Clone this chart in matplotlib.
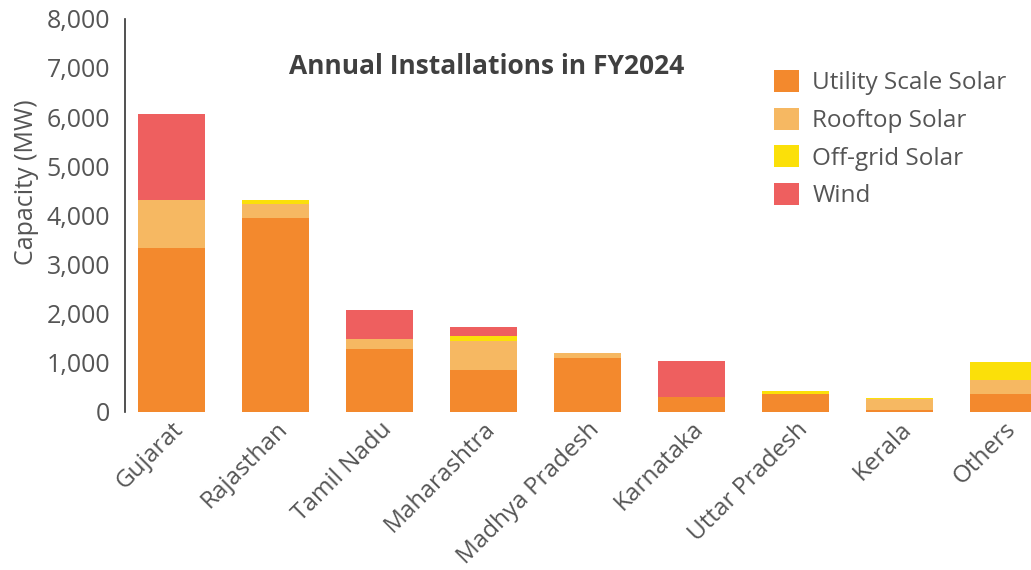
import matplotlib
matplotlib.use("Agg")
import matplotlib.pyplot as plt
from matplotlib.patches import Patch
import numpy as np

states = ["Gujarat", "Rajasthan", "Tamil Nadu", "Maharashtra", "Madhya Pradesh",
          "Karnataka", "Uttar Pradesh", "Kerala", "Others"]
utility = [3330, 3945, 1280, 850, 1095, 300, 360, 35, 360]
rooftop = [980, 285, 200, 590, 100, 0, 0, 225, 285]
offgrid = [0, 82, 0, 100, 0, 0, 60, 20, 365]
wind = [1750, 0, 590, 185, 0, 735, 0, 0, 0]
series_names = ["Utility Scale Solar", "Rooftop Solar", "Off-grid Solar", "Wind"]
colors = ["#F3892D", "#F6B862", "#FBE009", "#EE5F5F"]
y_ticks = [0, 1000, 2000, 3000, 4000, 5000, 6000, 7000, 8000]

plt.rcParams['font.family'] = ['Open Sans', 'DejaVu Sans']
text_color = "#555555"

W, H = 1031, 570
fig = plt.figure(figsize=(W / 100, H / 100), dpi=100)
px0, py0 = 125.3, 411.7
ppu = 104.0
x0 = -0.444
x1 = 8.6
ax = fig.add_axes([px0 / W, (H - py0) / H, (x1 - x0) * ppu / W, 392.8 / H])

x = np.arange(len(states))
data = [utility, rooftop, offgrid, wind]
bottom = np.zeros(len(states))
for vals, c, n in zip(data, colors, series_names):
    ax.bar(x, vals, width=0.644, bottom=bottom, color=c, label=n, linewidth=0)
    bottom += np.array(vals)

ax.set_xlim(x0, x1)
ax.set_ylim(0, 8000)
ax.set_yticks(y_ticks)
ax.set_yticklabels([f"{v:,}" for v in y_ticks], fontsize=18, color=text_color)
ax.set_xticks(x)
ax.set_xticklabels(states, rotation=45, ha='right', rotation_mode='anchor',
                   fontsize=17.5, color=text_color)
ax.tick_params(axis='both', length=0)
ax.tick_params(axis='y', pad=11)
ax.tick_params(axis='x', pad=4)
for s in ["top", "right", "bottom"]:
    ax.spines[s].set_visible(False)
ax.spines["left"].set_color("#333333")
ax.spines["left"].set_linewidth(1.2)

fig.text(27 / W, 1 - 182 / H, "Capacity (MW)", fontsize=18, color=text_color,
         rotation=90, ha='center', va='center')

fig.text(487 / W, 1 - 67 / H, "Annual Installations in FY2024", fontsize=19,
         fontweight='bold', color="#404040", ha='center', va='center')

handles = [Patch(facecolor=c, edgecolor='none') for c in colors]
leg = fig.legend(handles, series_names, loc='upper left',
                 bbox_to_anchor=(774 / W, 1 - 70 / H), frameon=False,
                 fontsize=17.5, handlelength=1.03, handleheight=1.03,
                 handletextpad=0.55, labelspacing=0.5, borderpad=0,
                 borderaxespad=0)
for t in leg.get_texts():
    t.set_color(text_color)

fig.savefig("out.png", dpi=100)
